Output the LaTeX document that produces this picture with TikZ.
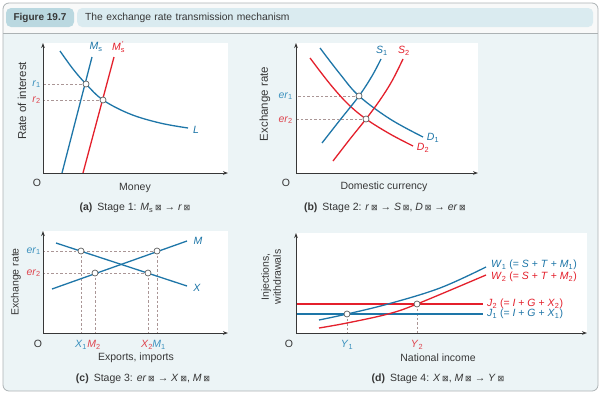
\documentclass[tikz,border=0pt]{standalone}
\usepackage{fontspec}
\setmainfont{Liberation Sans}
\newfontfamily\dejavu{DejaVu Sans}
\usetikzlibrary{arrows.meta}
\definecolor{cblue}{RGB}{30,118,168}
\definecolor{cred}{RGB}{228,32,44}
\definecolor{lblue}{RGB}{60,145,190}
\definecolor{lred}{RGB}{222,70,80}
\definecolor{panelbg}{RGB}{236,244,246}
\definecolor{headbg}{RGB}{248,249,249}
\definecolor{tabdark}{RGB}{186,216,224}
\definecolor{tablight}{RGB}{218,235,240}
\definecolor{framec}{RGB}{172,178,180}
\definecolor{dashc}{RGB}{170,150,150}
\definecolor{txt}{RGB}{55,55,55}
\newcommand\bx{{\dejavu\fontsize{8}{9}\selectfont ⊠}}
\newcommand\sub[2]{\textit{#1}\textsubscript{#2}}
\begin{document}
\begin{tikzpicture}[x=1pt,y=-1pt,
  axis/.style={txt, line width=0.9pt, {Stealth[length=5pt,width=3.6pt]}-{Stealth[length=5pt,width=3.6pt]}},
  curveb/.style={cblue, line width=1.3pt},
  curver/.style={cred, line width=1.3pt},
  guide/.style={dashc, line width=0.6pt, dash pattern=on 2.5pt off 2pt},
  pt/.style={circle, draw=gray!75!black, fill=white, inner sep=0pt, minimum size=6pt, line width=0.7pt},
  lab/.style={txt, font=\fontsize{10.5}{12}\selectfont, inner sep=0pt},
  ylab/.style={lab, rotate=90},
  captxt/.style={txt, font=\fontsize{10.5}{12}\selectfont, inner sep=0pt},
  tab/.style={rounded corners=5pt, inner sep=0pt, minimum height=19pt}
]
\useasboundingbox (0,0) rectangle (601,394);
% frame
\fill[headbg, rounded corners=6pt] (3,3) rectangle (598,391);
\begin{scope}
  \clip[rounded corners=6pt] (3,3) rectangle (598,391);
  \fill[panelbg] (3,33) rectangle (598,391);
\end{scope}
\draw[framec, rounded corners=6pt, line width=0.8pt] (3,3) rectangle (598,391);
\draw[framec, line width=0.8pt] (3,33) -- (598,33);
% header
\node[tab, fill=tabdark, minimum width=68pt, font=\fontsize{10}{12}\selectfont\bfseries, text=txt] (fig) at (40,17.5) {Figure 19.7};
\node[tab, fill=tablight, anchor=west, text width=500pt, inner xsep=8pt, align=left, font=\fontsize{10.3}{12}\selectfont, text=txt] (title) at (77,17.5) {The exchange rate transmission mechanism};

%================ Panel (a)
\coordinate (aO) at (43,173);
\coordinate (aYe) at (43,43);
\coordinate (aXe) at (228,173);
\fill[white] (aO) rectangle (228,43);
\coordinate (aP1) at (86,84);
\coordinate (aP2) at (103,100);
\draw[guide] (aP1) -- (aP1 -| aO);
\draw[guide] (aP2) -- (aP2 -| aO);
\draw[curveb] (62,173) -- (92,57);
\draw[curver] (83,173) -- (114,57);
\draw[curveb] plot[smooth, tension=0.6] coordinates {(60,51) (73,69) (aP1) (aP2) (130,114) (160,123) (188,128)};
\draw[axis] (aYe) -- (aO) -- (aXe);
\node[pt] (a1) at (aP1) {};
\node[pt] (a2) at (aP2) {};
\node[lab] (aOl) at (37,183) {O};
\node[lab] (aXl) at (135,188) {Money};
\node[ylab, font=\fontsize{11.5}{13}\selectfont] (aYl) at (22,101) {Rate of interest};
\node[lab, text=lblue, anchor=east] (ar1) at (41,84) {\sub{r}{1}};
\node[lab, text=lred, anchor=east] (ar2) at (41,100) {\sub{r}{2}};
\node[lab, text=cblue] (aMs) at (96,47) {\sub{M}{s}};
\node[lab, text=cred] (aMs2) at (118,47) {\textit{M}\rlap{\textsubscript{s}}\textsuperscript{\,′}};
\node[lab, text=cblue] (aL) at (196,130) {\textit{L}};
\node[captxt] (acap) at (135,208) {\textbf{(a)}\hspace{5pt}Stage 1: \sub{M}{s}\,\bx\ → \textit{r}\,\bx};

%================ Panel (b)
\coordinate (bO) at (296,173);
\coordinate (bYe) at (296,43);
\coordinate (bXe) at (478,173);
\fill[white] (bO) rectangle (478,43);
\coordinate (bP1) at (359,96);
\coordinate (bP2) at (366,119);
\draw[guide] (bP1) -- (bP1 -| bO);
\draw[guide] (bP2) -- (bP2 -| bO);
\draw[curveb] plot[smooth, tension=0.6] coordinates {(320,48) (340,74) (bP1) (390,119) (423,137)};
\draw[curver] plot[smooth, tension=0.6] coordinates {(310,58) (330,84) (348,104) (bP2) (390,134) (413,146)};
\draw[curveb] plot[smooth, tension=0.6] coordinates {(322,143) (340,120) (bP1) (372,76) (381,59)};
\draw[curver] plot[smooth, tension=0.6] coordinates {(333,161) (350,139) (bP2) (380,100) (392,81) (403,59)};
\draw[axis] (bYe) -- (bO) -- (bXe);
\node[pt] (b1) at (bP1) {};
\node[pt] (b2) at (bP2) {};
\node[lab] (bOl) at (286,183) {O};
\node[lab] (bXl) at (384,187) {Domestic currency};
\node[ylab, font=\fontsize{11.5}{13}\selectfont] (bYl) at (265,104) {Exchange rate};
\node[lab, text=lblue, anchor=east] (ber1) at (293,96) {\sub{er}{1}};
\node[lab, text=lred, anchor=east] (ber2) at (293,120) {\sub{er}{2}};
\node[lab, text=cblue] (bS1) at (382,51) {\sub{S}{1}};
\node[lab, text=cred] (bS2) at (404,51) {\sub{S}{2}};
\node[lab, text=cblue] (bD1) at (433,138) {\sub{D}{1}};
\node[lab, text=cred] (bD2) at (423,148) {\sub{D}{2}};
\node[captxt] (bcap) at (385,208) {\textbf{(b)}\hspace{5pt}Stage 2: \textit{r}\,\bx\ → \textit{S}\,\bx, \textit{D}\,\bx\ → \textit{er}\,\bx};

%================ Panel (c)
\coordinate (cO) at (43,333);
\coordinate (cYe) at (43,231);
\coordinate (cXe) at (228,333);
\fill[white] (cO) rectangle (228,231);
\coordinate (cP1) at (81,251);
\coordinate (cP2) at (95,273);
\coordinate (cP3) at (148,273);
\coordinate (cP4) at (157,251);
\draw[guide] (cP4) -- (cP4 -| cO);
\draw[guide] (cP3) -- (cP3 -| cO);
\foreach \p in {cP1,cP2,cP3,cP4} \draw[guide] (\p) -- (\p |- cO);
\draw[curveb] (56,243) -- (187,286);
\draw[curveb] (52,289) -- (187,241);
\draw[axis] (cYe) -- (cO) -- (cXe);
\node[pt] (c1) at (cP1) {};
\node[pt] (c2) at (cP2) {};
\node[pt] (c3) at (cP3) {};
\node[pt] (c4) at (cP4) {};
\node[lab] (cOl) at (38,344) {O};
\node[lab] (cXl) at (136,358) {Exports, imports};
\node[ylab] (cYl) at (16,282) {Exchange rate};
\node[lab, text=lblue, anchor=east] (cer1) at (41,251) {\sub{er}{1}};
\node[lab, text=lred, anchor=east] (cer2) at (41,273) {\sub{er}{2}};
\node[lab, text=cblue] (cM) at (198,241) {\textit{M}};
\node[lab, text=cblue] (cX) at (197,288) {\textit{X}};
\node[lab, text=lblue] (cX1) at (81,345) {\sub{X}{1}};
\node[lab, text=lred] (cM2) at (94,345) {\sub{M}{2}};
\node[lab, text=lred] (cX2) at (147,345) {\sub{X}{2}};
\node[lab, text=lblue] (cM1) at (159,345) {\sub{M}{1}};
\node[captxt] (ccap) at (143,379) {\textbf{(c)}\hspace{5pt}Stage 3: \textit{er}\,\bx\ → \textit{X}\,\bx, \textit{M}\,\bx};

%================ Panel (d)
\coordinate (dO) at (296,333);
\coordinate (dYe) at (296,233);
\coordinate (dXe) at (587,333);
\fill[white] (dO) rectangle (587,233);
\coordinate (dP1) at (347,314);
\coordinate (dP2) at (417,304);
\foreach \p in {dP1,dP2} \draw[guide] (\p) -- (\p |- dO);
\coordinate (dJ2e) at (483,304);
\coordinate (dJ1e) at (483,314);
\draw[curver] (dJ2e -| dO) -- (dJ2e);
\draw[curveb] (dJ1e -| dO) -- (dJ1e);
\draw[curveb] plot[smooth, tension=0.6] coordinates {(319,320) (dP1) (388,304) (440,288) (486,267)};
\draw[curver] plot[smooth, tension=0.6] coordinates {(319,328) (347,323) (388,314) (dP2) (486,275)};
\draw[axis] (dYe) -- (dO) -- (dXe);
\node[pt] (d1) at (dP1) {};
\node[pt] (d2) at (dP2) {};
\node[lab] (dOl) at (289,344) {O};
\node[lab] (dXl) at (438,358) {National income};
\node[ylab, align=center, font=\fontsize{10.5}{12}\selectfont] (dYl) at (271,277) {Injections,\\withdrawals};
\node[lab, text=lblue] (dY1) at (347,345) {\sub{Y}{1}};
\node[lab, text=lred] (dY2) at (417,345) {\sub{Y}{2}};
\node[lab, text=cblue, anchor=west] (dW1) at (491,265) {\sub{W}{1} (= \textit{S} + \textit{T} + \sub{M}{1})};
\node[lab, text=cred, anchor=west] (dW2) at (491,277) {\sub{W}{2} (= \textit{S} + \textit{T} + \sub{M}{2})};
\node[lab, text=cred, anchor=west] (dJ2) at (487,304) {\sub{J}{2} (= \textit{I} + \textit{G} + \sub{X}{2})};
\node[lab, text=cblue, anchor=west] (dJ1) at (487,314) {\sub{J}{1} (= \textit{I} + \textit{G} + \sub{X}{1})};
\node[captxt] (dcap) at (438,379) {\textbf{(d)}\hspace{5pt}Stage 4: \textit{X}\,\bx, \textit{M}\,\bx\ → \textit{Y}\,\bx};
\end{tikzpicture}
\end{document}
